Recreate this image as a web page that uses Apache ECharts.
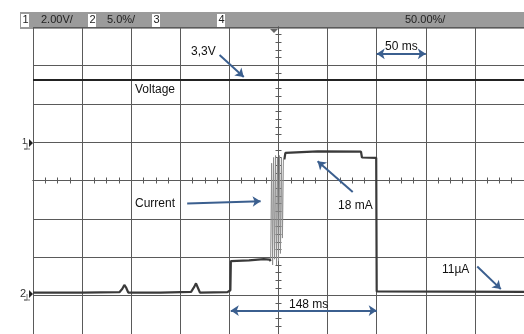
<!DOCTYPE html>
<html>
<head>
<meta charset="utf-8">
<script src="https://cdn.jsdelivr.net/npm/echarts@6/dist/echarts.min.js"></script>
<style>
  html, body { margin: 0; padding: 0; background: #fff; }
  #scope { width: 524px; height: 334px; }
</style>
</head>
<body>
<div id="scope"></div>
<script>
// time in ms relative to trigger, level in divisions from screen centre
const timeRange = [-250, 250];
const levelRange = [-4, 4];
const headerLabels = ["1", "2.00V/", "2", "5.0%/", "3", "4", "50.00%/"];

const voltageTrace = [[-250, 2.62], [250, 2.62]];

const currentTrace = [
  [-250, -2.92], [-200, -2.92], [-162, -2.91], [-159, -2.82], [-157, -2.72],
  [-155, -2.8], [-153, -2.92], [-120, -2.92], [-89, -2.9], [-86, -2.78],
  [-84, -2.68], [-82, -2.8], [-80, -2.92], [-52, -2.91], [-49, -2.86],
  [-48.5, -2.1], [-30, -2.08], [-15, -2.05], [-9, -2.06], [-8, -2.1],
  [-7.5, "-"],
  [6, 0.55], [7, 0.72], [8, 0.75], [40, 0.76], [84, 0.75], [85, 0.6],
  [99.5, 0.59], [100, -2.89], [250, -2.9]
];

const spikeTrace = [
  [-8, -2.1], [-7, 0.45], [-6, -2.2], [-5, 0.6], [-4, -2.05], [-3, 0.65],
  [-2, -2.2], [-1, 0.6], [0, -2.1], [1, 0.65], [2, -1.9], [3, 0.6],
  [4, -1.5], [5, 0.55], [6, 0.55]
];

// annotation arrows: [start, end, double]
const arrows = [
  [[-60, 3.27], [-35.4, 2.7], false],
  [[100, 3.3], [150, 3.3], true],
  [[-93, -0.6], [-18.2, -0.54], false],
  [[75.6, -0.3], [39.8, 0.5], false],
  [[202.4, -2.24], [226.4, -2.83], false],
  [[-48.6, -3.39], [100, -3.39], true]
];

const notes = [
  { text: "3,3V", x: 191, y: 52 },
  { text: "50 ms", x: 385, y: 47 },
  { text: "Voltage", x: 135, y: 90 },
  { text: "Current", x: 135, y: 204 },
  { text: "18 mA", x: 338, y: 206 },
  { text: "11µA", x: 442, y: 270 },
  { text: "148 ms", x: 289, y: 305 }
];

const gridColor = "#5a5a5a";
const arrowColor = "#3b5f8f";

function crossAxis(position, sub) {
  return {
    type: "value",
    position: position,
    min: position === "left" || position === "right" ? levelRange[0] : timeRange[0],
    max: position === "left" || position === "right" ? levelRange[1] : timeRange[1],
    interval: position === "left" || position === "right" ? 1 : 50,
    axisLine: { show: true, onZero: true, lineStyle: { color: gridColor, width: 1 } },
    axisTick: { show: false },
    minorTick: { show: true, splitNumber: sub, length: 3, lineStyle: { color: gridColor } },
    splitLine: { show: true, lineStyle: { color: gridColor, width: 1 } },
    axisLabel: { show: false }
  };
}

const chart = echarts.init(document.getElementById("scope"));

const graphics = [
  { type: "rect", shape: { x: 20, y: 12, width: 504, height: 17 }, style: { fill: "#9b9b9b" } },
  { type: "rect", shape: { x: 21, y: 14, width: 8, height: 13 }, style: { fill: "#fff" } },
  { type: "rect", shape: { x: 88, y: 14, width: 8, height: 13 }, style: { fill: "#fff" } },
  { type: "rect", shape: { x: 152, y: 14, width: 8, height: 13 }, style: { fill: "#fff" } },
  { type: "rect", shape: { x: 217, y: 14, width: 8, height: 13 }, style: { fill: "#fff" } },
  // trigger marker
  { type: "polygon", shape: { points: [[270, 29], [278, 29], [274, 33]] }, style: { fill: "#666" } },
  // channel markers
  { type: "polygon", shape: { points: [[29, 139], [33, 143], [29, 147]] }, style: { fill: "#222" } },
  { type: "polygon", shape: { points: [[29, 290], [33, 294], [29, 298]] }, style: { fill: "#222" } },
  { type: "polyline", shape: { points: [[27, 143], [27, 149], [24, 149], [30, 149]] }, style: { stroke: "#777", lineWidth: 1 } },
  { type: "polyline", shape: { points: [[27, 294], [27, 300], [24, 300], [30, 300]] }, style: { stroke: "#777", lineWidth: 1 } },
  { type: "text", x: 22, y: 137, style: { text: "1", fontSize: 9, fill: "#333", fontFamily: "Liberation Sans" } },
  { type: "text", x: 20, y: 288, style: { text: "2", fontSize: 11, fill: "#333", fontFamily: "Liberation Sans" } }
];

const headerPos = [22.5, 41, 89.5, 107, 153.5, 218.5, 405];
headerLabels.forEach((t, i) => {
  graphics.push({
    type: "text", x: headerPos[i], y: 14.5,
    style: { text: t, fontSize: 11, fill: "#222", fontFamily: "Liberation Sans" }
  });
});

notes.forEach(n => {
  graphics.push({
    type: "text", x: n.x, y: n.y, z: 10,
    style: { text: n.text, fontSize: 12, fill: "#111", fontFamily: "Liberation Sans", verticalAlign: "middle" }
  });
});

chart.setOption({
  animation: false,
  backgroundColor: "#fff",
  grid: { left: 33, right: -3, top: 27, bottom: -1 },
  xAxis: [crossAxis("bottom", 4), crossAxis("top", 4)],
  yAxis: [crossAxis("left", 5), crossAxis("right", 5)],
  series: [
    {
      name: "Voltage",
      type: "line",
      data: voltageTrace,
      symbol: "none",
      lineStyle: { color: "#222", width: 2 },
      markLine: {
        silent: true,
        symbolSize: 8,
        label: { show: false },
        lineStyle: { color: arrowColor, width: 2, type: "solid" },
        data: arrows.map(a => [
          { coord: a[0], symbol: a[2] ? "arrow" : "none" },
          { coord: a[1], symbol: "arrow" }
        ])
      }
    },
    {
      name: "Spikes",
      type: "line",
      data: spikeTrace,
      symbol: "none",
      lineStyle: { color: "#8c8c8c", width: 1 }
    },
    {
      name: "Current",
      type: "line",
      data: currentTrace,
      symbol: "none",
      connectNulls: false,
      lineStyle: { color: "#3a3a3a", width: 2.2 }
    }
  ],
  graphic: graphics
});
</script>
</body>
</html>
